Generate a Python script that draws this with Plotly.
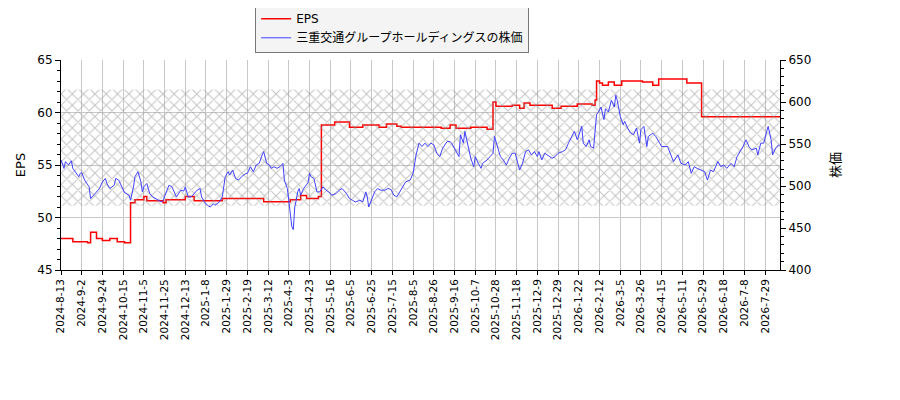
import plotly.graph_objects as go

# x positions are trading-day numbers counted from 2024-8-13
tick_labels = [
    "2024-8-13", "2024-9-2", "2024-9-24", "2024-10-15", "2024-11-5", "2024-11-25",
    "2024-12-13", "2025-1-8", "2025-1-29", "2025-2-19", "2025-3-12", "2025-4-3",
    "2025-4-23", "2025-5-16", "2025-6-5", "2025-6-25", "2025-7-15", "2025-8-5",
    "2025-8-26", "2025-9-16", "2025-10-7", "2025-10-28", "2025-11-18", "2025-12-9",
    "2025-12-29", "2026-1-22", "2026-2-12", "2026-3-5", "2026-3-26", "2026-4-15",
    "2026-5-11", "2026-5-29", "2026-6-18", "2026-7-8", "2026-7-29",
]
tick_step = 14
last_day = 486

# EPS (step series): day where a level starts, and the level
eps_day = [0, 8, 18, 20, 24, 28, 33, 38, 43, 47, 50, 56, 58, 69, 71, 84, 90, 109,
           137, 155, 162, 166, 174, 176, 185, 195, 204, 215, 220, 227, 230, 257,
           263, 267, 277, 288, 292, 294, 305, 310, 313, 317, 332, 338, 349, 359,
           361, 362, 364, 366, 370, 374, 379, 393, 400, 404, 423, 433, 486]
eps_val = [48.0, 47.7, 47.6, 48.6, 48.0, 47.8, 48.0, 47.7, 47.6, 51.4, 51.7, 52.0,
           51.6, 51.4, 51.7, 52.0, 51.6, 51.8, 51.5, 51.7, 52.1, 51.8, 52.0, 58.8,
           59.1, 58.6, 58.8, 58.6, 58.9, 58.7, 58.6, 58.5, 58.8, 58.5, 58.6, 58.4,
           61.0, 60.6, 60.7, 60.4, 60.9, 60.7, 60.4, 60.6, 60.8, 60.7, 61.2, 63.0,
           62.8, 62.6, 62.9, 62.6, 63.0, 62.9, 62.6, 63.2, 62.8, 59.6, 59.6]

# share price
price_day = [0, 2, 3, 5, 7, 8, 12, 13, 14, 16, 19, 20, 22, 24, 26, 28, 30, 31, 33,
             36, 37, 39, 40, 42, 43, 46, 47, 49, 50, 52, 54, 55, 56, 58, 60, 62, 64,
             65, 68, 69, 72, 73, 75, 77, 78, 81, 83, 84, 86, 88, 90, 92, 94, 95, 97,
             99, 101, 103, 104, 107, 109, 111, 113, 114, 116, 118, 120, 122, 125,
             126, 128, 130, 132, 134, 136, 137, 139, 141, 142, 144, 146, 148, 150,
             151, 153, 154, 156, 157, 158, 159, 160, 161, 162, 164, 165, 167, 168,
             169, 171, 173, 175, 177, 179, 181, 183, 186, 188, 190, 193, 195, 197,
             199, 202, 204, 206, 207, 208, 210, 212, 214, 216, 219, 221, 223, 225,
             227, 229, 231, 233, 236, 238, 240, 242, 244, 246, 248, 250, 252, 254,
             256, 258, 261, 263, 264, 266, 269, 270, 272, 273, 275, 277, 279, 280,
             282, 284, 285, 288, 290, 292, 293, 295, 297, 299, 301, 303, 305, 307,
             309, 310, 312, 314, 316, 318, 320, 322, 323, 325, 327, 330, 332, 334,
             336, 339, 341, 343, 345, 347, 349, 350, 352, 353, 355, 357, 358, 360,
             361, 362, 363, 365, 367, 368, 370, 372, 374, 375, 376, 378, 380, 381,
             383, 385, 387, 389, 391, 392, 394, 396, 397, 400, 402, 404, 406, 410,
             412, 414, 417, 419, 422, 424, 426, 428, 430, 432, 435, 437, 439, 441,
             444, 446, 448, 450, 453, 455, 457, 461, 463, 465, 467, 470, 471, 473,
             475, 477, 478, 480, 481, 483, 485, 486]
price_val = [531, 521, 529, 525, 530, 521, 511, 515, 516, 507, 499, 485, 489, 493,
             497, 505, 509, 503, 497, 501, 509, 507, 503, 497, 492, 489, 483, 499,
             511, 517, 505, 493, 499, 503, 491, 487, 485, 483, 481, 483, 495, 501,
             499, 491, 487, 495, 494, 499, 487, 487, 491, 495, 497, 487, 481, 477,
             475, 479, 477, 481, 487, 511, 517, 513, 519, 509, 507, 511, 515, 515,
             523, 517, 525, 527, 537, 541, 527, 525, 521, 523, 521, 523, 527, 507,
             497, 483, 452, 448, 475, 483, 493, 497, 489, 497, 499, 504, 515, 511,
             509, 493, 493, 499, 495, 493, 489, 491, 495, 497, 491, 485, 483, 481,
             483, 481, 493, 487, 475, 485, 493, 497, 495, 495, 497, 496, 489, 487,
             493, 499, 505, 507, 515, 537, 551, 547, 551, 547, 551, 549, 539, 535,
             545, 553, 553, 551, 545, 535, 561, 551, 565, 547, 533, 523, 535, 527,
             521, 527, 531, 535, 539, 559, 547, 535, 531, 525, 533, 539, 539, 527,
             519, 527, 541, 543, 537, 541, 535, 541, 531, 539, 535, 533, 535, 539,
             541, 543, 551, 559, 565, 555, 561, 571, 551, 547, 555, 547, 545, 563,
             585, 587, 594, 579, 592, 588, 602, 594, 608, 602, 583, 573, 577, 569,
             563, 561, 569, 551, 567, 571, 547, 559, 563, 559, 553, 547, 547, 537,
             529, 537, 527, 525, 529, 515, 523, 521, 519, 517, 507, 519, 517, 529,
             523, 525, 521, 527, 523, 535, 547, 555, 547, 543, 545, 537, 551, 551,
             565, 571, 555, 537, 545, 549, 547]

band_low = 476.5
band_high = 615.0

font = "DejaVu Sans, Noto Sans CJK JP, sans-serif"

fig = go.Figure()

# hatched band
fig.add_trace(go.Scatter(
    x=[0, last_day, last_day, 0, 0],
    y=[band_low, band_low, band_high, band_high, band_low],
    yaxis="y2", mode="lines", line=dict(width=0), fill="toself",
    fillcolor="rgba(0,0,0,0)",
    fillpattern=dict(shape="x", size=8, solidity=0.25, fgcolor="#8a8a8a",
                     bgcolor="rgba(0,0,0,0)"),
    showlegend=False, hoverinfo="skip"))

fig.add_trace(go.Scatter(x=eps_day, y=eps_val, mode="lines", name="EPS",
                         line=dict(color="red", width=1.5, shape="hv")))
fig.add_trace(go.Scatter(x=price_day, y=price_val, mode="lines", yaxis="y2",
                         name="三重交通グループホールディングスの株価",
                         line=dict(color="#4040ff", width=1)))

# page body adds 8px on the left and top
fig.update_layout(
    width=900, height=400,
    margin=dict(l=53, r=128, t=52, b=138, autoexpand=False),
    paper_bgcolor="white", plot_bgcolor="white",
    font=dict(family=font, size=11, color="black"),
    legend=dict(x=0.27, y=1.27, xanchor="left", yanchor="top",
                bgcolor="#f4f4f4", bordercolor="#777777", borderwidth=1,
                font=dict(size=12)),
    xaxis=dict(
        range=[0, last_day],
        tickvals=[i * tick_step for i in range(len(tick_labels))],
        ticktext=tick_labels, tickangle=-90,
        showgrid=True, gridcolor="#c8c8c8", gridwidth=1,
        ticks="outside", ticklen=4, tickcolor="black",
        showline=True, linecolor="black", linewidth=1,
        zeroline=False, tickfont=dict(size=10.5), automargin=False,
    ),
    yaxis=dict(
        title=dict(text="EPS", standoff=8), range=[45, 65], dtick=5,
        showgrid=True, gridcolor="#c8c8c8", gridwidth=1,
        ticks="outside", ticklen=5, tickcolor="black",
        minor=dict(dtick=1, ticks="outside", ticklen=3, tickcolor="black", showgrid=False),
        showline=True, linecolor="black", linewidth=1, zeroline=False,
        tickfont=dict(size=12), automargin=False,
    ),
    yaxis2=dict(
        title=dict(text="株価", standoff=20), range=[400, 650], dtick=50,
        overlaying="y", side="right", showgrid=False,
        ticks="outside", ticklen=5, tickcolor="black",
        minor=dict(dtick=10, ticks="outside", ticklen=3, tickcolor="black"),
        showline=True, linecolor="black", linewidth=1, zeroline=False,
        tickfont=dict(size=12), automargin=False,
    ),
)

fig.write_html("out.html")
